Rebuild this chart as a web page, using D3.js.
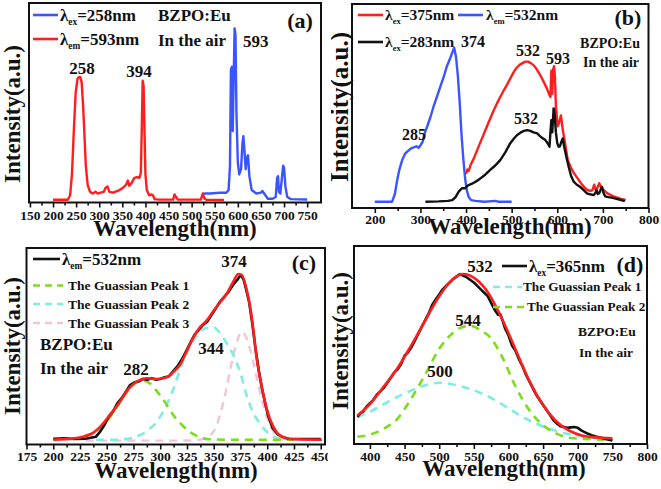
<!DOCTYPE html>
<html><head><meta charset="utf-8">
<script src="https://cdn.jsdelivr.net/npm/d3@7"></script>
<style>
html,body{margin:0;padding:0;background:#fff;}
svg text{font-family:"Liberation Serif","Times New Roman",serif;font-weight:bold;fill:#111;}
</style></head>
<body>
<svg id="chart" width="661" height="489"></svg>
<script>
// ---------- DATA ----------
// Panel (a)
const aTicksMajor = [150,200,250,300,350,400,450,500,550,600,650,700,750];
const aEmRed = [[200,0.4],[232,0.4],[237,3],[241,15],[245,40],[249,62],[253,70],[256,71],[259,71],[262,68],[265,55],[268,38],[271,20],[275,9],[280,5],[286,4],[292,5],[297,4],[303,4.5],[310,5],[314,7.5],[318,8],[322,5],[330,4.5],[340,5.5],[350,7],[358,9],[362,11.5],[365,8.5],[370,10],[376,13],[382,13.5],[387,13],[390,16],[392,40],[394,69],[396,66],[398,40],[400,15],[403,6],[408,3],[413,3.5],[416,3],[420,0.8],[430,0.5],[460,0.5],[463,3.5],[466,2],[470,0.5],[520,0.5],[524,4],[528,1],[532,0.4],[570,0.3]];
const aExBlue = [[525,4],[540,4],[560,4.5],[575,4.5],[580,6],[583,20],[585,75],[587,77],[589,40],[591,70],[593,99],[595,95],[597,50],[600,22],[603,15],[607,18],[610,33],[612,37],[614,30],[617,18],[620,25],[622,26],[625,14],[630,6],[640,4],[650,4.5],[653,5.5],[657,4],[665,1],[675,1],[682,2],[685,13],[687,14],[689,5],[692,4],[695,12],[698,20],[700,19],[703,8],[707,2],[715,0.8],[750,0.6]];
// Panel (b)
const bTicksMajor = [200,300,400,500,600,700,800];
const bEmBlue = [[200,0],[238,0],[244,5],[249,14],[254,21],[260,27],[266,31],[271,32.5],[277,34],[282,35],[287,35.5],[291,36],[296,35],[301,37],[305,39],[310,45],[315,49],[322,55],[329,62],[336,68],[344,75],[351,81],[358,88],[365,93],[370,97],[374,100],[378,94],[382,82],[386,65],[390,44],[394,28],[398,15],[402,7],[406,3],[411,1],[420,0.5],[440,0],[465,0.5],[470,0],[500,0]];
const bEx375Red = [[400,18],[403,21],[406,20],[410,24],[417,28],[425,34],[432,39],[439,44],[446,49],[453,54],[461,59.5],[468,64],[475,68],[483,72.5],[490,76],[497,80],[504,84],[511,87],[518,89],[524,90],[530,91],[536,91],[542,90],[548,88.7],[555,86],[563,82],[570,78],[577,73.6],[582,70],[585,68],[587,85],[589,70],[591,86],[593,88],[595,80],[597,62],[601,49],[605,52],[608,56],[612,47],[617,38],[623,27],[630,22],[637,18.4],[645,15],[652,12],[659,9.5],[666,7.6],[673,7],[677,7.5],[681,11],[684,8],[688,9],[692,12],[695,10],[700,8],[710,5.4],[725,3.2],[740,1.8],[750,1.2]];
const bEx283Black = [[311,0],[340,0.2],[360,0.5],[370,1],[377,3],[384,6.5],[391,8.7],[398,8.7],[402,10],[406,10.8],[412,11.5],[417,12.3],[424,13.5],[431,15],[442,17.5],[453,20.6],[464,23.5],[475,27],[486,32],[497,38],[505,41],[512,43.3],[520,45],[527,46],[534,46.5],[541,46],[548,45],[556,44.4],[564,42],[574,40],[580,37.5],[583,35.7],[585,45],[587,53],[589,45],[592,60.6],[594,58],[597,45],[600,38],[603,35.7],[606,36],[609,39],[612,41],[615,36],[620,29],[625,22.7],[630,17],[636,13],[643,11],[650,9.7],[658,7.5],[665,5.4],[672,4.8],[680,4.3],[684,6],[686,7.6],[689,5],[692,5.5],[696,8.5],[698,9.7],[701,6],[705,3.5],[712,3],[719,2.6],[730,1.8],[740,1],[748,0.4]];
// Panel (c)
const cTicksMajor = [175,200,225,250,275,300,325,350,375,400,425,450];
const cExBlack = [[200,0.6],[210,0.8],[220,0.4],[230,0.6],[235,1.2],[240,1.8],[244,5],[248,9],[252,14],[256,17],[260,22],[264,25],[268,29],[272,33],[276,34.5],[280,35],[284,36.5],[288,36],[292,37],[296,36],[300,36.5],[304,37.5],[308,38],[312,41],[316,44],[320,48],[324,53],[328,58],[332,63],[336,66],[340,69],[344,71],[348,75],[352,79],[356,83],[360,86],[364,89],[368,93],[372,96],[374,98],[376,98.5],[378,96],[380,91],[383,83],[386,70],[389,55],[392,42],[395,31],[398,22],[401,14],[405,7],[410,3],[415,1.5],[420,0.6],[430,0.4],[450,0.4]];
const cFitRed = [[200,0],[219,0.8],[228,1.8],[238,4.4],[244,7.8],[250,12.4],[256,17.4],[263,23.4],[269,29.5],[275,33.5],[281,35.9],[287,36.9],[297,36.5],[306,37.5],[312,40.5],[319,45.5],[325,53.5],[331,61.5],[337,67.5],[344,72],[350,77.6],[356,82.6],[362,87.6],[368,94.6],[373,99.6],[376,99.2],[381,89.6],[386,71.5],[390,49.5],[395,31.5],[400,17.4],[406,7.4],[412,2.4],[421,0.4],[451,0]];
const cGauss1 = [[230,2],[240,5],[250,11],[257,17],[265,25],[273,32],[279,35],[284,35.5],[290,34],[297,29],[305,22],[312,15],[320,9],[328,4.5],[337,1.5],[345,0.3],[360,0],[380,0],[400,0],[425,0]];
const cGauss2 = [[240,0],[260,0],[270,0.5],[280,2.5],[288,5.4],[297,11],[306,21],[312,30],[319,43],[327,55],[335,63],[342,67],[350,67.5],[357,63],[363,57],[369,50],[375,40],[381,26],[387,16],[394,9],[400,4.5],[406,1.8],[412,0.5]];
const cGauss3 = [[230,-0.6],[260,-0.6],[300,-0.6],[330,-0.4],[340,0.5],[345,2],[350,5],[354,11],[358,20],[362,31],[366,44],[370,55],[374,63],[377,65],[380,62],[385,52],[390,37.5],[395,24],[400,13],[405,5.5],[410,1.5],[415,0]];
// Panel (d)
const dTicksMajor = [400,450,500,550,600,650,700,750,800];
const dEmBlack = [[382,16],[386,18],[390,19],[395,22],[400,24],[405,26],[410,29],[415,31],[420,33],[425,36],[430,39],[435,42],[440,44],[445,47],[450,52],[455,54],[460,57],[465,61],[470,65],[475,69],[480,73],[485,77],[490,82],[495,85],[500,88],[505,91],[510,93],[515,95],[520,97],[525,98.5],[530,100],[535,99],[540,98],[545,96.5],[550,95],[555,93],[560,91],[565,89],[570,87],[575,83],[580,79],[585,76],[588,76.5],[592,72],[595,68],[600,64],[605,58],[610,55],[615,50],[620,46],[625,41],[630,37],[635,33],[640,29],[645,26],[650,23],[655,20],[660,17],[665,14],[670,12],[675,10.5],[680,10],[685,9.5],[690,9.8],[695,10],[700,9.5],[705,8],[710,7],[715,6],[720,5.2],[725,4.5],[730,4],[735,3.5],[740,3],[745,2.5],[750,2]];
const dFitRed = [[382,16.7],[400,23.5],[419,33.3],[439,44.1],[458,56.9],[477,70.6],[496,84.3],[515,95.1],[534,100],[553,97],[572,88.2],[592,72.5],[611,54.9],[630,37.3],[649,23.5],[668,13.7],[688,7.8],[707,4.9],[726,3.9],[750,3.3]];
const dGauss1 = [[382,15.7],[400,19],[420,23.5],[440,27.8],[460,31.5],[480,34.5],[500,36],[520,35],[540,33],[560,30],[580,26],[600,21],[620,16],[640,12],[660,8.8],[680,6.5],[700,4.8],[720,3.8],[750,3]];
const dGauss2 = [[382,4.3],[400,5.5],[420,9],[440,15],[460,27],[480,41],[500,56],[520,65.5],[544,69.6],[560,67],[575,62],[590,52],[610,34],[630,20],[650,11],[670,6],[690,3.5],[710,3],[750,2.5]];

// ---------- COLOURS ----------
const RED = "#ff1e1e", BLUE = "#3a55ff", BLACK = "#111111",
      GREEN = "#7ddc1f", CYAN = "#7eeee0", PINK = "#f2c4da";

const svg = d3.select("#chart");
const defs = svg.append("defs");

function panel(cfg){
  const id = "clip" + cfg.name;
  defs.append("clipPath").attr("id", id).append("rect")
    .attr("x", cfg.clip[0]).attr("y", cfg.clip[1]).attr("width", cfg.clip[2]).attr("height", cfg.clip[3]);
  const g = svg.append("g").attr("clip-path", `url(#${id})`);
  const x = d3.scaleLinear().domain(cfg.xd).range([cfg.l, cfg.r]);
  const y = d3.scaleLinear().domain(cfg.yd).range([cfg.b, cfg.t]);

  // minor ticks
  const minor = [];
  for (let i = 0; i < cfg.major.length - 1; i++) minor.push((cfg.major[i] + cfg.major[i+1]) / 2);
  const gm = g.append("g").attr("transform", `translate(0,${cfg.b})`)
    .call(d3.axisBottom(x).tickValues(minor).tickSize(3).tickFormat(""));
  gm.select(".domain").remove();
  gm.selectAll("line").attr("stroke", "#111").attr("stroke-width", 1.6);
  const ga = g.append("g").attr("transform", `translate(0,${cfg.b})`)
    .call(d3.axisBottom(x).tickValues(cfg.major).tickSize(5).tickFormat(d3.format("d")));
  ga.select(".domain").remove();
  ga.selectAll("line").attr("stroke", "#111").attr("stroke-width", 1.6);
  ga.selectAll("text").attr("y", cfg.tickY).attr("dy", 0)
    .style("font-size", "13.5px").attr("fill", "#111");

  // series
  cfg.series.forEach(s => {
    const line = d3.line().x(d => x(d[0])).y(d => y(d[1]))
      .curve(s.smooth ? d3.curveMonotoneX : d3.curveLinear);
    g.append("path").datum(s.data).attr("d", line)
      .attr("fill", "none").attr("stroke", s.color)
      .attr("stroke-width", s.w || 2.4)
      .attr("stroke-dasharray", s.dash || null)
      .attr("stroke-linejoin", "round");
  });

  // frame
  g.append("rect").attr("x", cfg.l).attr("y", cfg.t)
    .attr("width", cfg.r - cfg.l).attr("height", cfg.b - cfg.t)
    .attr("fill", "none").attr("stroke", "#111").attr("stroke-width", 2);

  // axis titles
  g.append("text").attr("x", (cfg.titleX)).attr("y", cfg.titleY)
    .attr("text-anchor", "middle").style("font-size", "23px").text("Wavelength(nm)");
  g.append("text").attr("transform", `translate(${cfg.yTitleX},${cfg.yTitleY}) rotate(-90)`)
    .attr("text-anchor", "middle").style("font-size", cfg.yTitleSize || "23px").text("Intensity(a.u.)");

  return {g, x, y};
}

function lambdaLabel(g, xx, yy, sub, rest, size){
  const t = g.append("text").attr("x", xx).attr("y", yy).style("font-size", size + "px");
  t.append("tspan").text("λ");
  t.append("tspan").attr("dy", 4).style("font-size", (size * 0.55) + "px").text(sub);
  t.append("tspan").attr("dy", -4).text(rest);
}
function label(g, xx, yy, txt, size, anchor){
  g.append("text").attr("x", xx).attr("y", yy).attr("text-anchor", anchor || "start")
    .style("font-size", size + "px").text(txt);
}
function legLine(g, x1, x2, yy, color, dash){
  g.append("line").attr("x1", x1).attr("x2", x2).attr("y1", yy).attr("y2", yy)
    .attr("stroke", color).attr("stroke-width", 2.6).attr("stroke-dasharray", dash || null);
}

// ---------- Panel (a) ----------
const A = panel({name:"a", clip:[0,0,331,244], xd:[148,780], yd:[-1.15,113.65], l:29, r:321, t:3, b:202.5,
  major:aTicksMajor, tickY:17, titleX:175, titleY:236, yTitleX:20, yTitleY:114,
  series:[{data:aEmRed, color:RED},{data:aExBlue, color:BLUE}]});
legLine(A.g, 33, 58, 15, BLUE);
lambdaLabel(A.g, 60, 21, "ex", "=258nm", 17);
legLine(A.g, 33, 58, 39, RED);
lambdaLabel(A.g, 60, 45, "em", "=593nm", 17);
label(A.g, 158, 21, "BZPO:Eu", 17);
label(A.g, 158, 46, "In the air", 17);
label(A.g, 243, 47, "593", 17);
label(A.g, 82, 74, "258", 17, "middle");
label(A.g, 139, 77, "394", 17, "middle");
label(A.g, 300, 28, "(a)", 22, "middle");

// ---------- Panel (b) ----------
const B = panel({name:"b", clip:[331,0,330,244], xd:[150,800], yd:[-4.1,128.4], l:352, r:648.5, t:4, b:208,
  major:bTicksMajor, tickY:16, titleX:510, titleY:234, yTitleX:348, yTitleY:107, yTitleSize:"25px",
  series:[{data:bEmBlue, color:BLUE},{data:bEx375Red, color:RED},{data:bEx283Black, color:BLACK}]});
legLine(B.g, 358, 383, 15, RED);
lambdaLabel(B.g, 385, 20, "ex", "=375nm", 15.5);
legLine(B.g, 458, 483, 15, BLUE);
lambdaLabel(B.g, 486, 20, "em", "=532nm", 15.5);
legLine(B.g, 358, 383, 42, BLACK);
lambdaLabel(B.g, 385, 47, "ex", "=283nm", 15.5);
label(B.g, 461, 47, "374", 16);
label(B.g, 628, 25, "(b)", 22, "middle");
label(B.g, 610, 48, "BZPO:Eu", 14, "middle");
label(B.g, 611, 67, "In the air", 14, "middle");
label(B.g, 528, 56, "532", 16, "middle");
label(B.g, 558, 64, "593", 16, "middle");
label(B.g, 526, 124, "532", 16, "middle");
label(B.g, 414, 140, "285", 16, "middle");

// ---------- Panel (c) ----------
const C = panel({name:"c", clip:[0,245,328,244], xd:[175,454], yd:[-2.9,115.2], l:26.5, r:325, t:248, b:444.5,
  major:cTicksMajor, tickY:16, titleX:176, titleY:478, yTitleX:20, yTitleY:346,
  series:[{data:cGauss3, color:PINK, dash:"8,6", smooth:true, w:2.4},
          {data:cGauss2, color:CYAN, dash:"8,6", smooth:true, w:2.6},
          {data:cGauss1, color:GREEN, dash:"8,6", smooth:true, w:2.6},
          {data:cExBlack, color:BLACK, w:2.6},
          {data:cFitRed, color:RED, smooth:true, w:2.6}]});
legLine(C.g, 33, 60, 259, BLACK);
lambdaLabel(C.g, 62, 265, "em", "=532nm", 17);
legLine(C.g, 33, 63, 285.5, GREEN, "7,5");
label(C.g, 68, 290, "The Guassian Peak 1", 13.5);
legLine(C.g, 33, 63, 304, CYAN, "7,5");
label(C.g, 68, 309, "The Guassian Peak 2", 13.5);
legLine(C.g, 33, 63, 323, PINK, "7,5");
label(C.g, 68, 328, "The Guassian Peak 3", 13.5);
label(C.g, 234, 267, "374", 17, "middle");
label(C.g, 304, 270, "(c)", 22, "middle");
label(C.g, 40, 350, "BZPO:Eu", 17);
label(C.g, 40, 374, "In the air", 17);
label(C.g, 136, 375, "282", 17, "middle");
label(C.g, 211, 354, "344", 17, "middle");

// ---------- Panel (d) ----------
const D = panel({name:"d", clip:[331,245,330,244], xd:[377,800], yd:[0,116.5], l:354, r:647, t:246, b:444,
  major:dTicksMajor, tickY:17, titleX:504, titleY:476, yTitleX:348, yTitleY:341,
  series:[{data:dGauss1, color:CYAN, dash:"8,6", smooth:true, w:2.6},
          {data:dGauss2, color:GREEN, dash:"8,6", smooth:true, w:2.6},
          {data:dEmBlack, color:BLACK, w:2.6},
          {data:dFitRed, color:RED, smooth:true, w:2.6}]});
label(D.g, 480, 272, "532", 17, "middle");
legLine(D.g, 502, 527, 266, BLACK);
lambdaLabel(D.g, 529, 272, "ex", "=365nm", 17);
label(D.g, 630, 272, "(d)", 22, "middle");
legLine(D.g, 493, 522, 287, CYAN, "7,5");
label(D.g, 523, 291, "The Guassian Peak 1", 13.2);
legLine(D.g, 493, 525, 307, GREEN, "7,5");
label(D.g, 527, 311, "The Guassian Peak 2", 13.2);
label(D.g, 468, 326, "544", 17, "middle");
label(D.g, 607, 336, "BZPO:Eu", 13.5, "middle");
label(D.g, 606, 357, "In the air", 13.5, "middle");
label(D.g, 440, 377, "500", 17, "middle");
</script>
</body></html>
